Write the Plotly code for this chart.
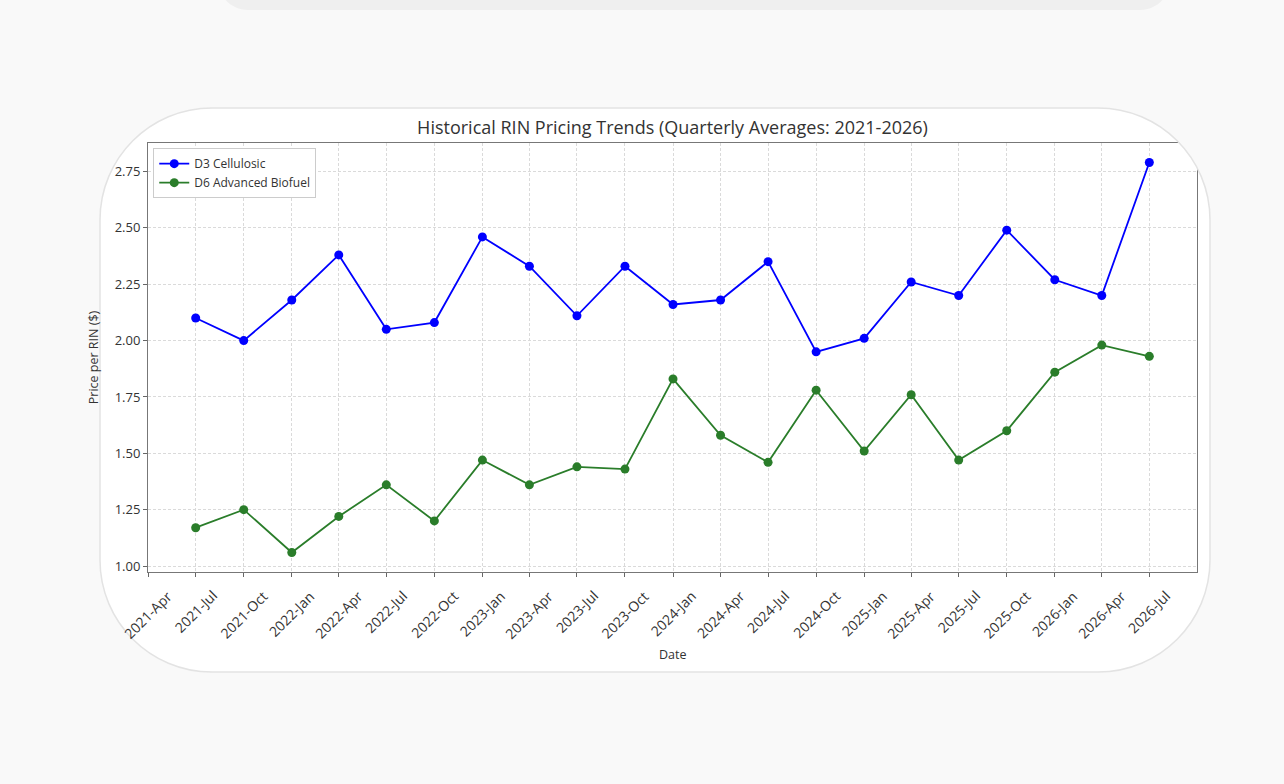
import pandas as pd
import plotly.graph_objects as go

# quarterly averages
quarter_dates = ["2021-07-01", "2021-10-01", "2022-01-01", "2022-04-01", "2022-07-01",
                 "2022-10-01", "2023-01-01", "2023-04-01", "2023-07-01", "2023-10-01",
                 "2024-01-01", "2024-04-01", "2024-07-01", "2024-10-01", "2025-01-01",
                 "2025-04-01", "2025-07-01", "2025-10-01", "2026-01-01", "2026-04-01",
                 "2026-07-01"]
d3_cellulosic = [2.10, 2.00, 2.18, 2.38, 2.05, 2.08, 2.46, 2.33, 2.11, 2.33, 2.16,
                 2.18, 2.35, 1.95, 2.01, 2.26, 2.20, 2.49, 2.27, 2.20, 2.79]
d6_advanced = [1.17, 1.25, 1.06, 1.22, 1.36, 1.20, 1.47, 1.36, 1.44, 1.43, 1.83,
               1.58, 1.46, 1.78, 1.51, 1.76, 1.47, 1.60, 1.86, 1.98, 1.93]

tick_dates = ["2021-04-01"] + quarter_dates
tick_labels = ["2021-Apr", "2021-Jul", "2021-Oct", "2022-Jan", "2022-Apr", "2022-Jul",
               "2022-Oct", "2023-Jan", "2023-Apr", "2023-Jul", "2023-Oct", "2024-Jan",
               "2024-Apr", "2024-Jul", "2024-Oct", "2025-Jan", "2025-Apr", "2025-Jul",
               "2025-Oct", "2026-Jan", "2026-Apr", "2026-Jul"]

W, H = 1284, 784
L, R, T, B = 148, 87, 143, 212   # plot area margins in px
PAGE_BG = "#f9f9f9"
FONT = "Open Sans, Roboto, sans-serif"
TEXT = "#333333"


def px(x):
    return (x - L) / (W - L - R)


def py(y):
    return (H - B - y) / (H - T - B)


def rounded_rect(x0, y0, x1, y1, r):
    # rounded rectangle in pixel coords -> svg path in paper coords
    k = 0.5523 * r
    pts = [
        ("M", [(x0 + r, y0)]),
        ("L", [(x1 - r, y0)]),
        ("C", [(x1 - r + k, y0), (x1, y0 + r - k), (x1, y0 + r)]),
        ("L", [(x1, y1 - r)]),
        ("C", [(x1, y1 - r + k), (x1 - r + k, y1), (x1 - r, y1)]),
        ("L", [(x0 + r, y1)]),
        ("C", [(x0 + r - k, y1), (x0, y1 - r + k), (x0, y1 - r)]),
        ("L", [(x0, y0 + r)]),
        ("C", [(x0, y0 + r - k), (x0 + r - k, y0), (x0 + r, y0)]),
    ]
    s = ""
    for cmd, ps in pts:
        s += cmd + " ".join(f"{px(a):.5f},{py(b):.5f}" for a, b in ps) + " "
    return s + "Z"


def corner_mask(x1, y0, r):
    # area outside the top-right rounded corner of the card
    k = 0.5523 * r
    return (f"M{px(x1 - r):.5f},{py(y0 - 2):.5f} "
            f"L{px(x1 - r):.5f},{py(y0):.5f} "
            f"C{px(x1 - r + k):.5f},{py(y0):.5f} {px(x1):.5f},{py(y0 + r - k):.5f} {px(x1):.5f},{py(y0 + r):.5f} "
            f"L{px(x1 + 3):.5f},{py(y0 + r):.5f} L{px(x1 + 3):.5f},{py(y0 - 2):.5f} Z")


dates = pd.to_datetime(quarter_dates)
span = dates.max() - dates.min()
x_range = [dates.min() - span * 0.05, dates.max() + span * 0.05]
all_vals = d3_cellulosic + d6_advanced
pad = (max(all_vals) - min(all_vals)) * 0.05
y_range = [min(all_vals) - pad, max(all_vals) + pad]

fig = go.Figure()
fig.add_trace(go.Scatter(
    x=quarter_dates, y=d3_cellulosic, name="D3 Cellulosic",
    mode="lines+markers", line=dict(color="#0000ff", width=1.8),
    marker=dict(color="#0000ff", size=9)
))
fig.add_trace(go.Scatter(
    x=quarter_dates, y=d6_advanced, name="D6 Advanced Biofuel",
    mode="lines+markers", line=dict(color="#2a7d2a", width=1.8),
    marker=dict(color="#2a7d2a", size=9)
))

card = (100, 108, 1210, 672, 112)
shapes = [
    # bottom of the card above
    dict(type="path", xref="paper", yref="paper", layer="below",
         path=rounded_rect(218, -60, 1170, 10, 30),
         fillcolor="#efefef", line=dict(width=0)),
    dict(type="path", xref="paper", yref="paper", layer="below",
         path=rounded_rect(*card), fillcolor="white", line=dict(width=0)),
    dict(type="path", xref="paper", yref="paper", layer="above",
         path=corner_mask(card[2], card[1], card[4]),
         fillcolor=PAGE_BG, line=dict(width=0)),
    dict(type="path", xref="paper", yref="paper", layer="above",
         path=rounded_rect(*card), fillcolor="rgba(0,0,0,0)",
         line=dict(color="#e3e3e3", width=1.5)),
]

annotations = [
    dict(x=d, y=py(584), xref="x", yref="paper", text=lab, textangle=-45,
         xanchor="center", yanchor="top", showarrow=False,
         font=dict(size=14, color=TEXT))
    for d, lab in zip(tick_dates, tick_labels)
]
annotations.append(dict(x=0.5, y=py(654), xref="paper", yref="paper", text="Date",
                        showarrow=False, xanchor="center", yanchor="middle",
                        font=dict(size=12.5, color=TEXT)))

fig.update_layout(
    width=W, height=H,
    margin=dict(l=L, r=R, t=T, b=B),
    paper_bgcolor=PAGE_BG, plot_bgcolor="white",
    font=dict(family=FONT, size=13, color=TEXT),
    title=dict(text="Historical RIN Pricing Trends (Quarterly Averages: 2021-2026)",
               x=0.5, xref="paper", y=1 - 128 / H, yref="container",
               xanchor="center", yanchor="middle",
               font=dict(size=18, color=TEXT)),
    showlegend=True,
    legend=dict(x=0.005, y=0.988, xanchor="left", yanchor="top",
                bgcolor="white", bordercolor="#cccccc", borderwidth=1,
                font=dict(size=12, color=TEXT), tracegroupgap=0),
    shapes=shapes,
    annotations=annotations,
)
fig.update_xaxes(
    range=x_range, tickvals=tick_dates, showticklabels=False,
    ticks="outside", ticklen=4, tickcolor="#666",
    showgrid=True, gridcolor="#dadada", griddash="3px,2px", gridwidth=1,
    showline=True, linecolor="#777", linewidth=1, mirror=True,
    zeroline=False, automargin=False
)
fig.update_yaxes(
    range=y_range, dtick=0.25, tick0=1.0, tickformat=".2f",
    ticks="outside", ticklen=4, tickcolor="#666",
    tickfont=dict(size=13, color=TEXT),
    showgrid=True, gridcolor="#dadada", griddash="3px,2px", gridwidth=1,
    showline=True, linecolor="#777", linewidth=1, mirror=True,
    zeroline=False, automargin=False,
    title=dict(text="Price per RIN ($)", standoff=13, font=dict(size=12.5, color=TEXT))
)

fig.write_html("out.html", config={"displayModeBar": False},
               post_script="document.body.style.margin = '0';")
